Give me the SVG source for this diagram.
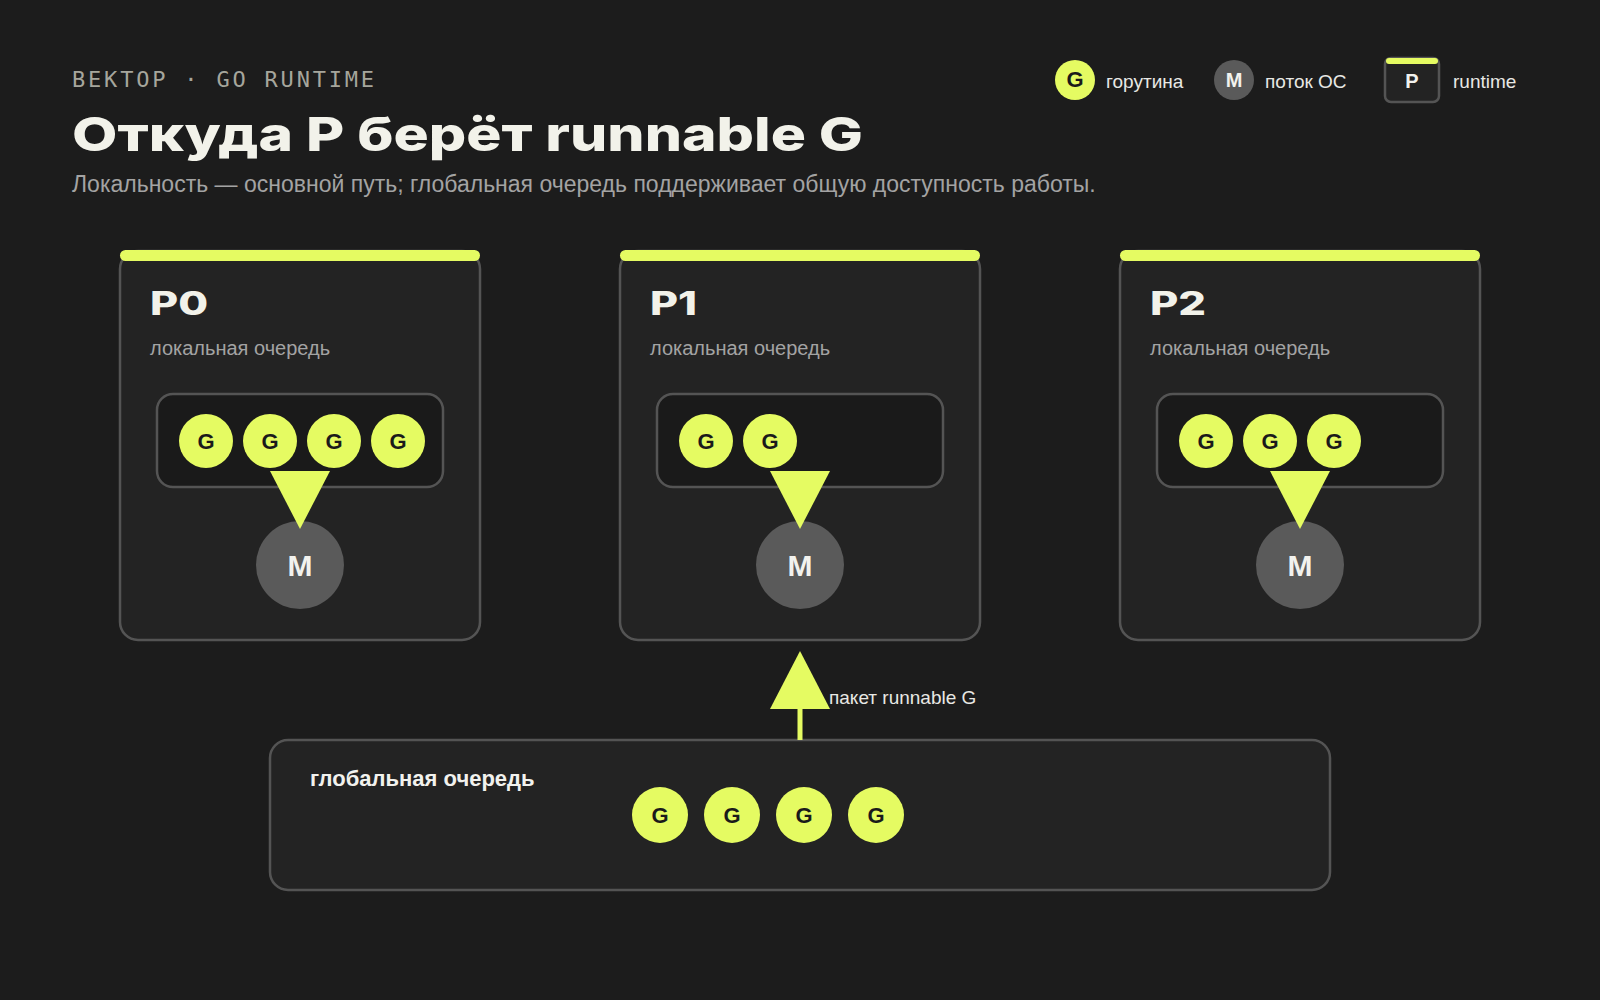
<svg xmlns="http://www.w3.org/2000/svg" width="1600" height="1000" viewBox="0 0 1600 1000">
<defs>
<style>
.bg{fill:#1c1c1c}
.card{fill:#232323;stroke:#545454;stroke-width:2.5}
.queue{fill:#1a1a1a;stroke:#545454;stroke-width:2.5}
.bar{fill:#e5fb62}
.g{fill:#e5fb62}
.gt{font-family:"Liberation Sans",Arial,sans-serif;font-weight:700;font-size:22px;fill:#1a1a1a;text-anchor:middle}
.m{fill:#5a5a5a}
.mt{font-family:"Liberation Sans",Arial,sans-serif;font-weight:700;font-size:30px;fill:#f2f2ee;text-anchor:middle}
.ptitle{font-family:Inter,"Liberation Sans",sans-serif;font-weight:800;font-size:32px;fill:#f2f2ea}
.sub{font-family:"Liberation Sans",Arial,sans-serif;font-size:20px;fill:#a3a3a3}
.leg{font-family:"Liberation Sans",Arial,sans-serif;font-size:19px;fill:#e8e8e4}
.conn{stroke:#e5fb62;stroke-width:5;fill:none}
</style>
<marker id="ah" viewBox="0 0 58 60" refX="10" refY="30" markerWidth="58" markerHeight="60" markerUnits="userSpaceOnUse" orient="auto">
<path d="M0,0 L58,30 L0,60 Z" fill="#e5fb62"/>
</marker>
</defs>
<rect class="bg" x="0" y="0" width="1600" height="1000"/>

<g id="header">
<text x="72" y="87" font-family="DejaVu Sans Mono,Liberation Mono,monospace" font-size="22" letter-spacing="2.8" fill="#a6a69c">BEKTOP · GO RUNTIME</text>
<text x="72" y="151" font-family="Inter,Liberation Sans,sans-serif" font-weight="800" font-size="47" fill="#f2f2ea" textLength="791" lengthAdjust="spacingAndGlyphs">Откуда P берёт runnable G</text>
<text x="72" y="192" font-family="Liberation Sans,Arial,sans-serif" font-size="23" fill="#a3a3a3">Локальность — основной путь; глобальная очередь поддерживает общую доступность работы.</text>
</g>

<g id="legend">
<circle class="g" cx="1075" cy="80" r="20"/>
<text class="gt" x="1075" y="87" font-size="20">G</text>
<text class="leg" x="1106" y="88">горутина</text>
<circle class="m" cx="1234" cy="80" r="20"/>
<text class="mt" x="1234" y="87" style="font-size:20px">M</text>
<text class="leg" x="1265" y="88">поток ОС</text>
<rect x="1385" y="58" width="54" height="44" rx="6" fill="#232323" stroke="#545454" stroke-width="2.5"/>
<rect class="bar" x="1386" y="58" width="52" height="6" rx="3"/>
<text x="1412" y="88" font-family="Liberation Sans,Arial,sans-serif" font-weight="700" font-size="20" fill="#f2f2ee" text-anchor="middle">P</text>
<text class="leg" x="1453" y="88">runtime</text>
</g>

<g id="P0">
<rect class="card" x="120" y="251" width="360" height="389" rx="18"/>
<rect class="bar" x="120" y="250" width="360" height="11" rx="5.5"/>
<text class="ptitle" x="150" y="315" textLength="58" lengthAdjust="spacingAndGlyphs">P0</text>
<text class="sub" x="150" y="355">локальная очередь</text>
<rect class="queue" x="157" y="394" width="286" height="93" rx="16"/>
<circle class="g" cx="206" cy="441" r="27"/><text class="gt" x="206" y="449">G</text>
<circle class="g" cx="270" cy="441" r="27"/><text class="gt" x="270" y="449">G</text>
<circle class="g" cx="334" cy="441" r="27"/><text class="gt" x="334" y="449">G</text>
<circle class="g" cx="398" cy="441" r="27"/><text class="gt" x="398" y="449">G</text>
<circle class="m" cx="300" cy="565" r="44"/><text class="mt" x="300" y="576">M</text>
</g>

<g id="P1">
<rect class="card" x="620" y="251" width="360" height="389" rx="18"/>
<rect class="bar" x="620" y="250" width="360" height="11" rx="5.5"/>
<text class="ptitle" x="650" y="315" textLength="47" lengthAdjust="spacingAndGlyphs">P1</text>
<text class="sub" x="650" y="355">локальная очередь</text>
<rect class="queue" x="657" y="394" width="286" height="93" rx="16"/>
<circle class="g" cx="706" cy="441" r="27"/><text class="gt" x="706" y="449">G</text>
<circle class="g" cx="770" cy="441" r="27"/><text class="gt" x="770" y="449">G</text>
<circle class="m" cx="800" cy="565" r="44"/><text class="mt" x="800" y="576">M</text>
</g>

<g id="P2">
<rect class="card" x="1120" y="251" width="360" height="389" rx="18"/>
<rect class="bar" x="1120" y="250" width="360" height="11" rx="5.5"/>
<text class="ptitle" x="1150" y="315" textLength="56" lengthAdjust="spacingAndGlyphs">P2</text>
<text class="sub" x="1150" y="355">локальная очередь</text>
<rect class="queue" x="1157" y="394" width="286" height="93" rx="16"/>
<circle class="g" cx="1206" cy="441" r="27"/><text class="gt" x="1206" y="449">G</text>
<circle class="g" cx="1270" cy="441" r="27"/><text class="gt" x="1270" y="449">G</text>
<circle class="g" cx="1334" cy="441" r="27"/><text class="gt" x="1334" y="449">G</text>
<circle class="m" cx="1300" cy="565" r="44"/><text class="mt" x="1300" y="576">M</text>
</g>

<g id="global">
<rect class="card" x="270" y="740" width="1060" height="150" rx="18"/>
<text x="310" y="786" font-family="Liberation Sans,Arial,sans-serif" font-weight="700" font-size="22" fill="#f2f2ee">глобальная очередь</text>
<circle class="g" cx="660" cy="815" r="28"/><text class="gt" x="660" y="823">G</text>
<circle class="g" cx="732" cy="815" r="28"/><text class="gt" x="732" y="823">G</text>
<circle class="g" cx="804" cy="815" r="28"/><text class="gt" x="804" y="823">G</text>
<circle class="g" cx="876" cy="815" r="28"/><text class="gt" x="876" y="823">G</text>
</g>

<g id="connectors">
<line class="conn" x1="300" y1="473" x2="300" y2="481" marker-end="url(#ah)"/>
<line class="conn" x1="800" y1="473" x2="800" y2="481" marker-end="url(#ah)"/>
<line class="conn" x1="1300" y1="473" x2="1300" y2="481" marker-end="url(#ah)"/>
<line class="conn" x1="800" y1="740" x2="800" y2="699" marker-end="url(#ah)"/>
<text class="leg" x="829" y="704" fill="#f2f2ee">пакет runnable G</text>
</g>
</svg>
